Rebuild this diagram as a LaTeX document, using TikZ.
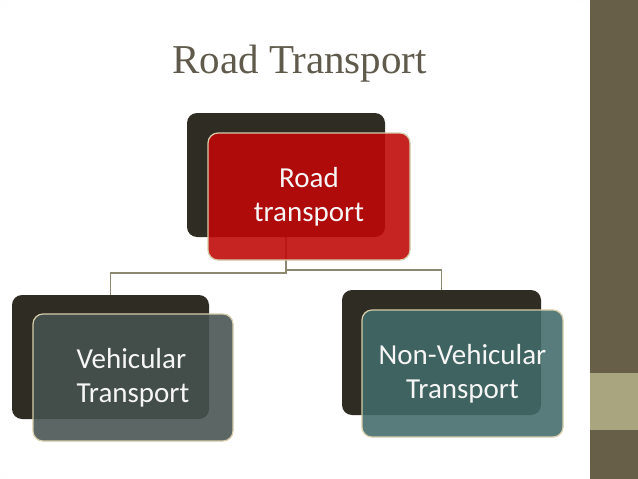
\documentclass[tikz,border=0pt]{standalone}
\usepackage{fontspec}
\setmainfont{Liberation Serif}
\newfontfamily\boxfont{Carlito}
\definecolor{bgmid}{RGB}{242,242,242}
\definecolor{bgout}{RGB}{222,222,222}
\definecolor{strip}{RGB}{103,95,71}
\definecolor{tan}{RGB}{169,165,127}
\definecolor{darkbox}{RGB}{47,44,36}
\definecolor{redbox}{RGB}{192,8,8}
\definecolor{tealL}{RGB}{70,83,80}
\definecolor{tealR}{RGB}{66,107,105}
\definecolor{edge}{RGB}{214,205,170}
\definecolor{conn}{RGB}{140,137,112}
\definecolor{titlec}{RGB}{95,90,75}
\definecolor{boxtext}{RGB}{246,246,246}
\pgfdeclareradialshading{bgshade}{\pgfpoint{0bp}{0bp}}{color(0bp)=(white); color(34bp)=(white); color(50bp)=(bgmid); color(71bp)=(bgout)}
\begin{document}
\begin{tikzpicture}[x=1pt,y=-1pt,
  back/.style={fill=darkbox, rounded corners=10pt, inner sep=0pt, draw=none},
  front/.style={rounded corners=10pt, inner sep=0pt, draw=edge, line width=1.2pt,
     fill opacity=0.89, draw opacity=1, text opacity=1, text=boxtext,
     font=\boxfont\fontsize{29}{34}\selectfont},
  conline/.style={draw=conn, line width=1.3pt}]
\useasboundingbox (0,0) rectangle (638,479);
\shade[shading=bgshade] (0,0) rectangle (590,479);
\fill[strip] (590,0) rectangle (638,479);
\fill[tan] (590,373) rectangle (638,430);
\node[anchor=base west, text=titlec, font=\fontsize{41}{48}\selectfont, inner sep=0pt] (title) at (172,73) {Road Transport};
% back boxes
\node[back, minimum width=198pt, minimum height=124pt] (topdark) at (286,175) {};
\node[back, minimum width=197pt, minimum height=124pt] (leftdark) at (110.5,357) {};
\node[back, minimum width=199pt, minimum height=125pt] (rightdark) at (441.5,352.5) {};
% connectors
\coordinate (jl) at (286,273);
\coordinate (jr) at (286,270);
\draw[conline] (topdark.south) -- (jl) -| (leftdark.north);
\draw[conline] (jr) -| (rightdark.north);
% front boxes
\node[front, fill=redbox, minimum width=202pt, minimum height=127pt, align=center] (road) at (309,196.5) {Road\\transport};
\node[front, fill=tealL, fill opacity=0.88, minimum width=200pt, minimum height=127pt, align=left] (veh) at (133,377.5) {Vehicular\\Transport};
\node[front, fill=tealR, fill opacity=0.88, minimum width=201pt, minimum height=127pt, align=center] (nonveh) at (462.5,373.5) {Non-Vehicular\\Transport};
\end{tikzpicture}
\end{document}
